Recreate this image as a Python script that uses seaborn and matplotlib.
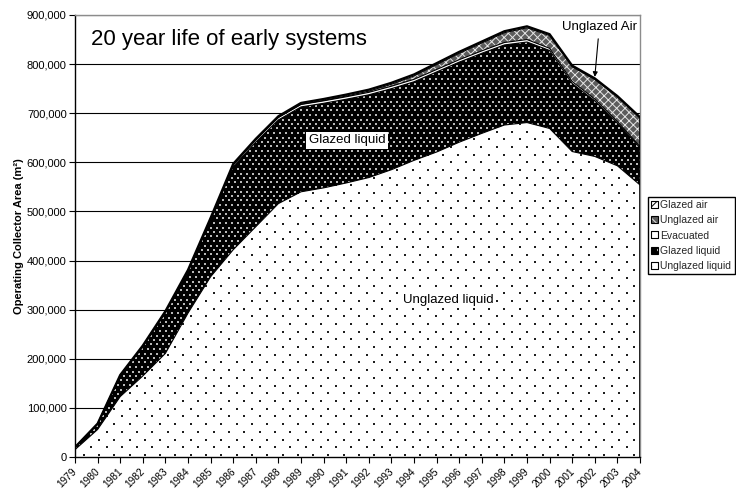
import numpy as np
import pandas as pd
import matplotlib
matplotlib.use("Agg")
import matplotlib.pyplot as plt
from matplotlib.patches import Patch
from matplotlib.transforms import TransformedPath, ScaledTranslation
from matplotlib.ticker import FuncFormatter
import seaborn as sns

# Operating collector area (m²) by collector type, 20 year life of early systems
years = list(range(1979, 2005))

unglazed_liquid = [15000, 56000, 123000, 165000, 211000, 293000, 367000, 422000,
                   469000, 516000, 540000, 548000, 558000, 569000, 585000, 604000,
                   621000, 641000, 659000, 676000, 681000, 669000, 622000, 612000,
                   593000, 554000]
glazed_liquid = [4200, 10500, 41700, 59000, 82300, 83500, 114700, 169000,
                 172300, 170300, 172800, 172200, 170500, 168500, 165000, 160000,
                 163000, 163000, 163000, 163000, 164000, 158700, 138500, 113300,
                 87000, 75700]
evacuated = [500, 1000, 1500, 2000, 2500, 3000, 3500, 4000, 4500,
             5000, 5000, 5000, 5000, 5000, 5000, 5000, 5000, 5000, 5000, 5000, 5000,
             4500, 4000, 3500, 3000, 2500]
unglazed_air = [0, 0, 0, 0, 0, 0, 0, 0, 0,
                300, 600, 1000, 1500, 2500, 4000, 7000, 10000, 13000, 16000, 20000,
                24000, 26000, 30000, 40000, 50000, 58000]
glazed_air = [300, 500, 800, 1000, 1200, 1500, 1800, 2000, 2200, 2400, 2600, 2800,
              3000, 3000, 3000, 3000, 3000, 3000, 3000, 3000, 3000,
              2800, 2500, 2200, 2000, 1800]

series_names = ["Unglazed liquid", "Glazed liquid", "Evacuated", "Unglazed air", "Glazed air"]
y_ticks = list(range(0, 900001, 100000))
y_max = 900000

sns.set_theme(style="white")
plt.rcParams["font.family"] = ["Liberation Sans", "DejaVu Sans"]
plt.rcParams["hatch.linewidth"] = 0.7

fig = plt.figure(figsize=(7.36, 4.91), dpi=100)
ax = fig.add_axes([75 / 736, 34 / 491, 565 / 736, 442 / 491])
ax.set_xlim(years[0], years[-1])
ax.set_ylim(0, y_max)

layers = np.array([unglazed_liquid, glazed_liquid, evacuated, unglazed_air, glazed_air], dtype=float)
tops = np.cumsum(layers, axis=0)
bottoms = np.vstack([np.zeros(len(years)), tops[:-1]])

bbox = ax.get_window_extent()
W, H = int(round(bbox.width)), int(round(bbox.height))


def dot_texture(h, w, period, row_gap, size, fg, bg):
    """Staggered dot fill pattern, one array pixel per screen pixel."""
    img = np.empty((h, w, 4))
    img[:] = bg
    for r, y in enumerate(np.arange(0, h, row_gap)):
        off = (period / 2) * (r % 2)
        yy = int(round(y))
        for x in np.arange(off, w, period):
            xx = int(round(x))
            img[yy:yy + size, xx:xx + size] = fg
    return img


textures = {
    "Unglazed liquid": dot_texture(H, W, 15.3, 7.7, 2, (0.12, 0.12, 0.12, 1), (1, 1, 1, 1)),
    "Glazed liquid": dot_texture(H, W, 6, 4.5, 2, (0.72, 0.72, 0.72, 1), (0, 0, 0, 1)),
}
hatch_styles = {
    "Evacuated": dict(facecolor="white", hatch=None, edgecolor="white"),
    "Unglazed air": dict(facecolor="#5c5c5c", hatch="xxxx", edgecolor="#e6e6e6"),
    "Glazed air": dict(facecolor="white", hatch="////", edgecolor="black"),
}

for i, name in enumerate(series_names):
    if name in textures:
        coll = ax.fill_between(years, bottoms[i], tops[i], facecolor="white",
                               linewidth=0, zorder=2)
        im = ax.imshow(textures[name], extent=(years[0], years[-1], 0, y_max),
                       aspect="auto", interpolation="nearest", zorder=2.1)
        im.set_clip_path(TransformedPath(coll.get_paths()[0], ax.transData))
    else:
        st = hatch_styles[name]
        ax.fill_between(years, bottoms[i], tops[i], facecolor=st["facecolor"],
                        hatch=st["hatch"], edgecolor=st["edgecolor"], linewidth=0, zorder=2)

# series borders
outline = pd.DataFrame({
    "year": np.tile(years, len(series_names)),
    "value": tops.ravel(),
    "edge": np.repeat(series_names, len(years)),
})
sns.lineplot(data=outline[outline["edge"] != "Glazed air"], x="year", y="value",
             units="edge", estimator=None, color="black", linewidth=0.8, ax=ax, zorder=3)
sns.lineplot(data=outline[outline["edge"] == "Glazed air"], x="year", y="value",
             estimator=None, color="black", linewidth=1.6, ax=ax, zorder=3.1)
ax.vlines(years[-1], 0, tops[-1, -1], colors="black", linewidth=1.2, zorder=3)

ax.set_xlim(years[0], years[-1])
ax.set_ylim(0, y_max)

# axes styling
ax.set_axisbelow(True)
ax.grid(axis="y", color="black", linewidth=0.8)
ax.grid(axis="x", visible=False)
ax.set_yticks(y_ticks)
ax.yaxis.set_major_formatter(FuncFormatter(lambda v, p: f"{int(v):,}"))
ax.set_xticks(years)
ax.set_xticklabels([str(y) for y in years], rotation=45, ha="right",
                   rotation_mode="anchor", fontsize=7.3)
ax.tick_params(axis="both", direction="out", length=4, width=0.8, color="black",
               bottom=True, left=True, labelcolor="black")
ax.tick_params(axis="y", labelsize=8, pad=2)
ax.tick_params(axis="x", pad=3)
shift = ScaledTranslation(-3 / 100, 0, fig.dpi_scale_trans)
for lab in ax.get_xticklabels():
    lab.set_transform(lab.get_transform() + shift)
for side in ["left", "bottom"]:
    ax.spines[side].set_color("black")
    ax.spines[side].set_linewidth(1.0)
for side in ["top", "right"]:
    ax.spines[side].set_color("#8c8c8c")
    ax.spines[side].set_linewidth(1.0)

ax.set_xlabel("")
ax.set_ylabel("Operating Collector Area (m²)", fontsize=8, fontweight="bold", color="black")
ax.yaxis.set_label_coords(-0.09, 0.5)

# annotations
fig.text(91 / 736, 1 - 45 / 491, "20 year life of early systems", fontsize=16,
         va="baseline", ha="left", color="black")
ax.text(1991.05, 645000, "Glazed liquid", fontsize=9.5, ha="center", va="center",
        color="black", zorder=5,
        bbox=dict(facecolor="white", edgecolor="none", boxstyle="square,pad=0.2"))
ax.text(1995.5, 320000, "Unglazed liquid", fontsize=9.5, ha="center", va="center",
        color="black", zorder=5,
        bbox=dict(facecolor="white", edgecolor="none", boxstyle="square,pad=0.15"))
ax.annotate("Unglazed Air", xy=(2002.0, 774000), xytext=(2002.2, 876000),
            fontsize=9.5, ha="center", va="center", color="black", zorder=5,
            annotation_clip=False,
            arrowprops=dict(arrowstyle="-|>", color="black", lw=0.8,
                            mutation_scale=7, shrinkA=2, shrinkB=0))

# legend, topmost series first
legend_style = {
    "Glazed air": dict(facecolor="white", hatch="////", edgecolor="black"),
    "Unglazed air": dict(facecolor="#5c5c5c", hatch="xx", edgecolor="#e6e6e6"),
    "Evacuated": dict(facecolor="white", hatch=None, edgecolor="black"),
    "Glazed liquid": dict(facecolor="black", hatch="..", edgecolor="#d4d4d4"),
    "Unglazed liquid": dict(facecolor="white", hatch=".", edgecolor="black"),
}
handles, labels = [], []
for name in series_names[::-1]:
    st = legend_style[name]
    handles.append((Patch(facecolor=st["facecolor"], hatch=st["hatch"],
                          edgecolor=st["edgecolor"], linewidth=0.6),
                    Patch(fill=False, edgecolor="black", linewidth=0.8)))
    labels.append(name)
fig.legend(handles, labels, loc="upper left", bbox_to_anchor=(648 / 736, 1 - 197 / 491),
           bbox_transform=fig.transFigure, borderaxespad=0, borderpad=0.3,
           labelspacing=0.5, handlelength=0.65, handleheight=0.65, handletextpad=0.25,
           frameon=True, fancybox=False, edgecolor="black", framealpha=1, fontsize=7.5)

fig.savefig("out.png", dpi=100)
